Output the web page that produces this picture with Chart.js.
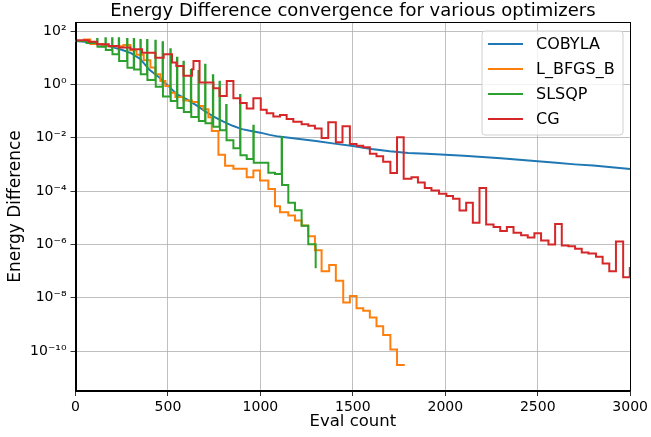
<!DOCTYPE html>
<html>
<head>
<meta charset="utf-8">
<script src="https://cdn.jsdelivr.net/npm/chart.js@4.4.1/dist/chart.umd.min.js"></script>
<style>
  html, body { margin: 0; padding: 0; background: #fff; }
</style>
</head>
<body>
<canvas id="convergenceChart" width="651" height="437"></canvas>
<script>
// Eval counts and energy differences

const cobylaX = [0, 50, 100, 150, 200, 250, 300, 350, 400, 450, 500, 550, 600, 650, 700, 750, 800, 850, 900, 950,
    1000, 1050, 1100, 1200, 1300, 1400, 1500, 1600, 1700, 1800, 1900, 2000, 2100, 2200, 2300, 2400, 2500,
    2600, 2700, 2800, 2900, 3000];
const cobylaY = [42, 40, 35, 30, 25, 20, 15, 9, 3.5, 1.9, 0.9, 0.42, 0.28, 0.17, 0.1, 0.06, 0.04, 0.028, 0.021, 0.018,
    0.0155, 0.0128, 0.011, 0.0092, 0.0075, 0.006, 0.0049, 0.0038, 0.0031, 0.0027, 0.0025, 0.0023, 0.0021, 0.0019,
    0.0017, 0.0015, 0.0013, 0.00115, 0.001, 0.0009, 0.00078, 0.00067];

const lbfgsbX = [0, 45, 80, 150, 259, 297, 330, 369, 405, 432, 459, 486, 513, 540, 584, 630, 665, 692, 719, 737,
    773, 809, 854, 926, 962, 998, 1043, 1079, 1106, 1151, 1187, 1223, 1259, 1295, 1331, 1372, 1408, 1448,
    1484, 1520, 1556, 1592, 1628, 1664, 1703, 1739, 1781];
const lbfgsbY = [42, 48, 33, 27, 30, 19, 13, 8, 4.3, 2.4, 1.35, 0.87, 0.49, 0.34, 0.25, 0.22, 0.155, 0.117, 0.058, 0.018,
    0.0023, 0.00089, 0.00068, 0.00033, 0.00059, 0.00025, 0.00012, 2.7e-5, 1.6e-5, 1.2e-5, 7.9e-6, 5.1e-6, 2.0e-6,
    6.0e-7, 9.8e-8, 1.7e-7, 4.3e-8, 6.6e-9, 1.15e-8, 4.0e-9, 3.2e-9, 1.8e-9, 8.5e-10, 4.0e-10, 1.15e-10, 3.0e-11, 3.0e-11];

// SLSQP: every line search pokes one eval up, then falls to the new level
const slsqpX = [0, 60, 117, 119, 162, 164, 198, 200, 234, 236, 279, 281, 315, 317, 351, 353, 387, 389, 432, 434,
    471, 473, 513, 515, 549, 551, 584, 586, 624, 626, 665, 667, 701, 703, 743, 745, 779, 781, 815, 817, 854,
    890, 892, 926, 962, 964, 1043, 1079, 1115, 1117, 1151, 1187, 1223, 1259, 1299];
const slsqpY = [42, 36, 50, 26, 54, 19.5, 54, 13.5, 54, 7.6, 50, 4.2, 50, 3.6, 46, 2.4, 46, 1.45, 43, 0.81,
    38, 0.35, 21, 0.24, 10, 0.13, 7.1, 0.093, 3.5, 0.06, 3.2, 0.042, 5.4, 0.035, 2.2, 0.026, 1.26, 0.019, 0.17, 0.008, 0.004,
    0.4, 0.0022, 0.0016, 0.028, 0.00115, 0.00049, 0.00044, 0.0105, 0.00017, 3.6e-5, 1.9e-5, 5e-6, 1e-6, 1.26e-7];

const cgX = [0, 72, 117, 180, 234, 297, 360, 432, 477, 522, 545, 584, 630, 638, 671, 746, 779, 818, 854, 890, 926,
    962, 1002, 1034, 1070, 1106, 1142, 1178, 1223, 1259, 1295, 1331, 1367, 1408, 1444, 1484, 1520, 1556, 1592,
    1628, 1664, 1703, 1739, 1775, 1817, 1852, 1889, 1925, 1966, 2006, 2042, 2077, 2113, 2149, 2185, 2221,
    2261, 2297, 2333, 2369, 2410, 2446, 2482, 2518, 2558, 2594, 2630, 2666, 2702, 2738, 2774, 2815, 2851,
    2887, 2923, 2962, 2998, 3010];
const cgY = [45, 40, 32, 27.5, 24, 21, 15.5, 10, 13.5, 6.6, 4.9, 2.1, 3.7, 7.6, 1.17, 0.71, 0.37, 1.35, 0.30, 0.20, 0.126,
    0.30, 0.112, 0.083, 0.063, 0.071, 0.050, 0.040, 0.032, 0.028, 0.022, 0.0098, 0.038, 0.0068, 0.027, 0.0058,
    0.005, 0.0044, 0.0025, 0.002, 0.00126, 0.00047, 0.0105, 0.00029, 0.00033, 0.00021, 0.000129, 0.000105,
    7.9e-5, 6.5e-5, 5.1e-5, 1.86e-5, 3.6e-5, 6.5e-6, 1.29e-4, 5.5e-6, 4.5e-6, 3.2e-6, 4.5e-6, 2.7e-6, 2.2e-6,
    1.8e-6, 2.6e-6, 1.4e-6, 9.8e-7, 5.8e-6, 9.1e-7, 8.5e-7, 6.9e-7, 4.9e-7, 4.5e-7, 3.4e-7, 1.9e-7, 9.8e-8,
    1.29e-6, 5.9e-8, 1.3e-7, 1.3e-7];

const seriesNames = ['COBYLA', 'L_BFGS_B', 'SLSQP', 'CG'];
const seriesColors = ['#1f77b4', '#ff7f0e', '#2ca02c', '#d62728'];
const xTicks = [0, 500, 1000, 1500, 2000, 2500, 3000];
const yTickExponents = [2, 0, -2, -4, -6, -8, -10];
const chartTitle = 'Energy Difference convergence for various optimizers';

const toPoints = (xs, ys) => xs.map((x, i) => ({ x: x, y: ys[i] }));

const supDigits = { '-': '\u207B', '0': '\u2070', '1': '\u00B9', '2': '\u00B2', '3': '\u00B3', '4': '\u2074',
    '5': '\u2075', '6': '\u2076', '7': '\u2077', '8': '\u2078', '9': '\u2079' };
const powerLabel = v => '10' + String(Math.round(Math.log10(v))).split('').map(c => supDigits[c]).join('');

const FONT = 'DejaVu Sans';

// title over the axes, box round them, and the matplotlib-style legend in the upper right
const frameAndLegend = {
    id: 'frameAndLegend',
    afterDraw(chart) {
        const { ctx, chartArea: a } = chart;
        ctx.save();
        ctx.fillStyle = '#000';
        ctx.font = '18px "' + FONT + '"';
        ctx.textAlign = 'center';
        ctx.textBaseline = 'middle';
        ctx.fillText(chartTitle, (a.left + a.right) / 2, 11);

        ctx.strokeStyle = '#000';
        ctx.lineWidth = 1;
        ctx.strokeRect(Math.round(a.left) + 0.5, Math.round(a.top) + 0.5,
            Math.round(a.right - a.left) - 1, Math.round(a.bottom - a.top) - 1);

        const bx = 482, by = 31, bw = 141, bh = 104, r = 3;
        ctx.beginPath();
        ctx.moveTo(bx + r, by);
        ctx.arcTo(bx + bw, by, bx + bw, by + bh, r);
        ctx.arcTo(bx + bw, by + bh, bx, by + bh, r);
        ctx.arcTo(bx, by + bh, bx, by, r);
        ctx.arcTo(bx, by, bx + bw, by, r);
        ctx.closePath();
        ctx.fillStyle = 'rgba(255,255,255,0.8)';
        ctx.fill();
        ctx.strokeStyle = '#d0d0d0';
        ctx.stroke();

        ctx.font = '16px "' + FONT + '"';
        ctx.textAlign = 'left';
        seriesNames.forEach((name, i) => {
            const y = 44 + i * 25;
            ctx.strokeStyle = seriesColors[i];
            ctx.lineWidth = 2;
            ctx.beginPath();
            ctx.moveTo(488, y);
            ctx.lineTo(523, y);
            ctx.stroke();
            ctx.fillStyle = '#000';
            ctx.fillText(name, 536, y + 1);
        });
        ctx.restore();
    }
};

const series = [
    toPoints(cobylaX, cobylaY),
    toPoints(lbfgsbX, lbfgsbY),
    toPoints(slsqpX, slsqpY),
    toPoints(cgX, cgY)
];

const ctx = document.getElementById('convergenceChart').getContext('2d');
const convergenceChart = new Chart(ctx, {
    type: 'line',
    data: {
        datasets: series.map((pts, i) => ({
            label: seriesNames[i],
            data: pts,
            borderColor: seriesColors[i],
            backgroundColor: seriesColors[i],
            borderWidth: 2,
            pointRadius: 0,
            fill: false,
            stepped: i === 0 ? false : 'before',
            order: 4 - i
        }))
    },
    options: {
        responsive: false,
        animation: false,
        devicePixelRatio: 1,
        layout: { padding: { left: 2, right: 20, top: 22, bottom: 0 } },
        scales: {
            x: {
                type: 'linear',
                min: 0,
                max: 3000,
                afterBuildTicks: axis => { axis.ticks = xTicks.map(v => ({ value: v })); },
                afterFit: axis => { axis.height = 46; },
                grid: { color: '#b0b0b0', lineWidth: 0.8, tickLength: 5, tickColor: '#000' },
                border: { color: '#000', width: 1 },
                ticks: {
                    color: '#000', padding: 3, maxRotation: 0, font: { family: FONT, size: 14 },
                    callback: v => String(v)
                },
                title: {
                    display: true, text: 'Eval count', color: '#000',
                    font: { family: FONT, size: 16.5 }, padding: { top: 0, bottom: 5 }
                }
            },
            y: {
                type: 'logarithmic',
                min: 3.16e-12,
                max: 219,
                afterBuildTicks: axis => { axis.ticks = yTickExponents.map(e => ({ value: Math.pow(10, e) })); },
                afterFit: axis => { axis.width = 73.5; },
                grid: { color: '#b0b0b0', lineWidth: 0.8, tickLength: 5, tickColor: '#000' },
                border: { color: '#000', width: 1 },
                ticks: {
                    color: '#000', padding: 4, font: { family: FONT, size: 14 },
                    callback: v => powerLabel(v)
                },
                title: {
                    display: true, text: 'Energy Difference', color: '#000',
                    font: { family: FONT, size: 17 }, padding: { top: 3, bottom: 0 }
                }
            }
        },
        plugins: {
            legend: { display: false },
            tooltip: { enabled: false },
            title: { display: false }
        }
    },
    plugins: [frameAndLegend]
});
</script>
</body>
</html>
